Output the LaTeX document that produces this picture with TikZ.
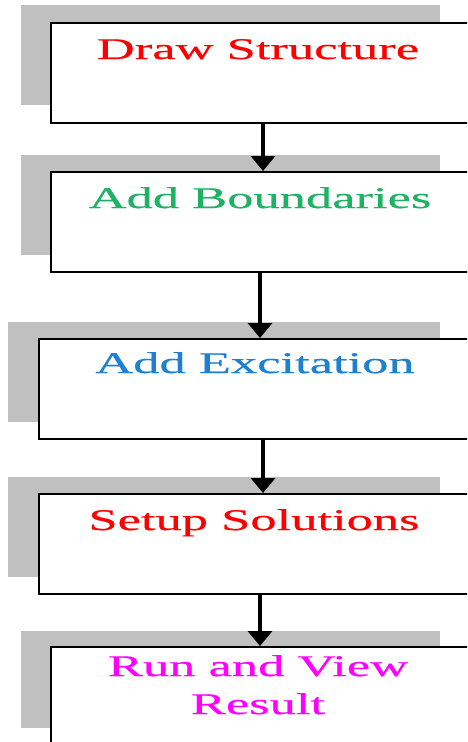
\documentclass[tikz,border=0pt]{standalone}
\usepackage{fontspec}
\setmainfont[FakeStretch=1.75,FakeBold=0.6]{Liberation Serif}
\usetikzlibrary{arrows.meta}
\definecolor{shade}{RGB}{192,192,192}
\definecolor{cgreen}{RGB}{30,178,100}
\definecolor{cblue}{RGB}{30,128,210}
\definecolor{cred}{RGB}{255,0,0}
\definecolor{cmag}{RGB}{255,0,255}
\tikzset{
  stepbox/.style={draw=black, line width=1.7pt, fill=white, rectangle,
    anchor=north west, minimum width=440pt, minimum height=100pt, inner sep=0pt},
  shadowbox/.style={fill=shade, draw=none},
  label text/.style={anchor=base, inner sep=0pt, font=\fontsize{30}{38}\selectfont,
    align=center},
  flow/.style={line width=3.5pt, -{Triangle[width=24pt,length=15pt]}},
}
\begin{document}
\begin{tikzpicture}[x=1pt,y=-1pt]
  \useasboundingbox (0,0) rectangle (467,742);
  \clip (0,0) rectangle (467,742);

  % gray backing panels
  \fill[shadowbox] (21,5)   rectangle (440,105);
  \fill[shadowbox] (21,155) rectangle (440,255);
  \fill[shadowbox] (8,322)  rectangle (440,422);
  \fill[shadowbox] (8,477)  rectangle (440,577);
  \fill[shadowbox] (21,631) rectangle (440,728);

  % process boxes
  \node[stepbox] (b1) at (50,22)  {};
  \node[stepbox] (b2) at (50,171) {};
  \node[stepbox] (b3) at (38,338) {};
  \node[stepbox] (b4) at (38,493) {};
  \node[stepbox] (b5) at (50,646) {};

  % labels
  \node[label text, text=cred]   (t1) at (258,59)  {Draw Structure};
  \node[label text, text=cgreen] (t2) at (260,208) {Add Boundaries};
  \node[label text, text=cblue]  (t3) at (255,373) {Add Excitation};
  \node[label text, text=cred]   (t4) at (254,530) {Setup Solutions};
  \node[label text, text=cmag, anchor=north] (t5) at (258,655) {Run and View\\Result};

  % connectors
  \draw[flow] (b1.south -| 263,0) -- (b2.north -| 263,0);
  \draw[flow] (b2.south -| 260,0) -- (b3.north -| 260,0);
  \draw[flow] (b3.south -| 263,0) -- (b4.north -| 263,0);
  \draw[flow] (b4.south -| 260,0) -- (b5.north -| 260,0);
\end{tikzpicture}
\end{document}
